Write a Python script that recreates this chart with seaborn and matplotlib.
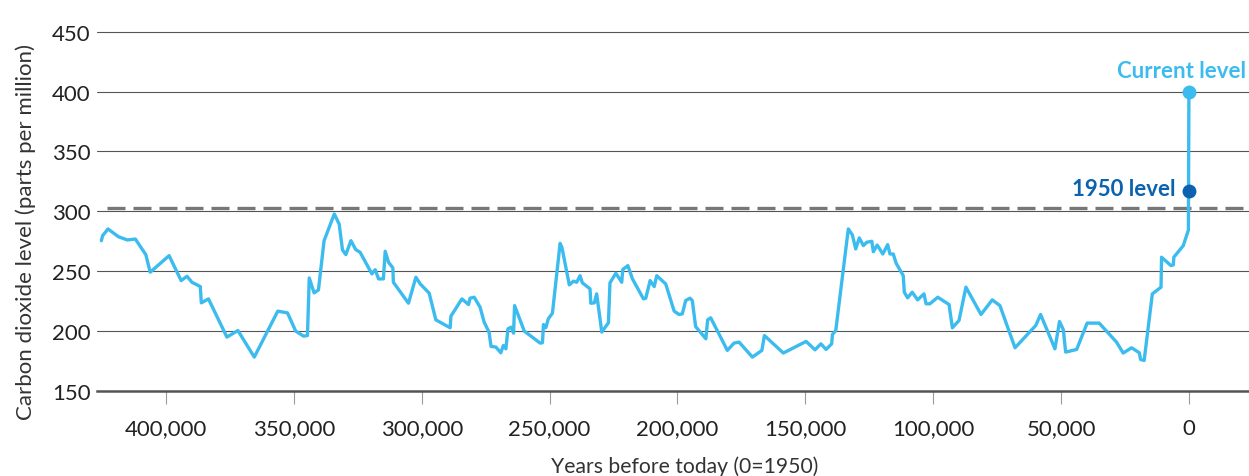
import matplotlib
matplotlib.use("Agg")
import matplotlib.pyplot as plt
import matplotlib.ticker as mticker
import pandas as pd
import seaborn as sns

# years before 1950 and CO2 (ppm)
years = [
    425300, 424800, 422700, 418600, 415100, 412000, 407900, 406200, 398800, 394100,
    391800, 389900, 386600, 386200, 383400, 376200, 371900, 365500, 356300, 352500,
    349300, 346200, 344700, 344000, 342100, 340400, 338200, 334200, 332300, 331000,
    329700, 327700, 325800, 324100, 319500, 318200, 316900, 315000, 314300, 313000,
    311300, 311100, 305200, 302300, 300600, 297100, 294500, 288900, 288600, 284300,
    281700, 281100, 279500, 277200, 275600, 273700, 272900, 271000, 269100, 268100,
    267100, 266300, 265000, 264100, 263700, 259900, 253700, 252800, 252400, 251500,
    250500, 248900, 245900, 245200, 242300, 240700, 239400, 238100, 237200, 234200,
    233900, 232500, 231600, 229600, 227000, 226400, 224100, 221800, 221400, 219400,
    217600, 213300, 212400, 210700, 209100, 208100, 204600, 201300, 199400, 198100,
    196800, 195100, 194200, 192900, 188900, 188200, 187000, 180500, 177900, 175900,
    170700, 167000, 166000, 158600, 149700, 146200, 143900, 141900, 139700, 139400,
    138100, 133200, 131600, 130300, 128900, 127300, 126000, 124000, 123400, 121900,
    119700, 117800, 116900, 115600, 114500, 111700, 111300, 110000, 108200, 106100,
    103600, 102800, 101300, 98200, 93800, 92500, 89900, 87200, 81300, 76900,
    73900, 68000, 59900, 58000, 52400, 50600, 49100, 48200, 43900, 39800,
    35100, 28300, 25700, 22400, 19400, 18900, 17500, 14300, 10900, 10700,
    7000, 6100, 5900, 2200, 200, 0,
]
co2 = [
    275.5, 279.7, 285.3, 278.8, 276.1, 276.9, 263.8, 249.2, 263.0, 242.2,
    245.8, 240.8, 237.2, 223.6, 226.9, 195.0, 200.5, 178.3, 216.7, 215.2,
    200.0, 195.8, 196.3, 244.4, 231.9, 234.4, 275.5, 297.8, 289.4, 267.8,
    263.9, 275.5, 268.0, 265.8, 247.8, 251.3, 243.6, 243.6, 266.7, 257.5,
    252.8, 240.8, 223.3, 245.0, 239.4, 231.7, 209.4, 202.8, 212.5, 226.9,
    222.2, 227.5, 228.3, 220.0, 207.5, 199.2, 187.2, 186.7, 181.9, 188.0,
    185.2, 201.9, 203.3, 198.3, 221.3, 200.0, 190.0, 190.3, 205.5, 202.8,
    210.3, 215.0, 273.3, 270.0, 238.6, 241.7, 240.8, 246.3, 240.3, 235.3,
    223.3, 223.6, 231.1, 199.2, 207.0, 240.3, 248.3, 240.8, 251.4, 254.7,
    243.6, 226.9, 227.5, 242.2, 237.2, 246.3, 239.4, 216.7, 213.9, 214.4,
    225.5, 227.5, 225.5, 203.8, 193.6, 209.4, 211.1, 183.9, 190.0, 190.8,
    178.3, 183.9, 196.3, 181.7, 191.4, 184.4, 189.4, 184.7, 189.4, 197.2,
    200.5, 285.3, 280.3, 268.6, 277.8, 271.4, 274.2, 275.0, 266.3, 271.9,
    264.4, 272.2, 264.4, 264.4, 256.7, 246.3, 232.5, 227.8, 232.5, 226.1,
    231.1, 222.8, 222.8, 228.3, 222.2, 202.8, 208.9, 236.7, 213.9, 226.1,
    221.3, 186.1, 204.7, 213.9, 185.2, 208.0, 201.1, 182.5, 184.7, 206.7,
    206.7, 190.8, 181.7, 186.1, 181.9, 176.3, 175.5, 231.1, 236.7, 261.7,
    254.7, 255.3, 261.7, 271.4, 284.4, 400.0,
]
pre_industrial_max = 303
level_1950 = 317
level_current = 400
y_ticks = [150, 200, 250, 300, 350, 400, 450]
x_ticks = [400000, 350000, 300000, 250000, 200000, 150000, 100000, 50000, 0]

LIGHT_BLUE = "#3cbcee"
DARK_BLUE = "#0b62ae"
GRID = "#555555"
TEXT = "#222222"

sns.set_style("white")
plt.rcParams["font.family"] = ["Lato", "DejaVu Sans"]

df = pd.DataFrame({"years": years, "co2": co2})

fig = plt.figure(figsize=(12.49, 4.77), dpi=100)
ax = fig.add_axes([97 / 1249, 1 - 392 / 477, 1 - 97 / 1249, 360 / 477])

# dashed reference line
ax.hlines(pre_industrial_max, 423000, -30000, colors="#777777", linewidth=2.4,
          linestyles=(0, (5.4, 2.4)), zorder=2)

sns.lineplot(data=df, x="years", y="co2", estimator=None, sort=False,
             color=LIGHT_BLUE, linewidth=2.4, ax=ax, zorder=3)

ax.plot([0], [level_current], "o", color=LIGHT_BLUE, markersize=9, zorder=4)
ax.plot([0], [level_1950], "o", color=DARK_BLUE, markersize=9, zorder=4)

# keep the label inside the figure: right-align it just short of the edge
ax.annotate("Current level", xy=(0, level_current), xytext=(41, 15), textcoords="offset points",
            ha="right", va="center", color=LIGHT_BLUE, fontsize=16, fontweight="bold")
ax.annotate("1950 level", xy=(0, level_1950), xytext=(-10, 1.5), textcoords="offset points",
            ha="right", va="center", color=DARK_BLUE, fontsize=16, fontweight="bold")

ax.set_xlim(427000, -23500)
ax.set_ylim(150, 450.6)
ax.set_xticks(x_ticks)
ax.set_yticks(y_ticks)
ax.xaxis.set_major_formatter(mticker.FuncFormatter(lambda v, p: f"{int(v):,}"))

ax.yaxis.grid(True, color=GRID, linewidth=0.8)
ax.xaxis.grid(False)
for side in ["top", "left", "right"]:
    ax.spines[side].set_visible(False)
ax.spines["bottom"].set_color(GRID)
ax.spines["bottom"].set_linewidth(1.8)
ax.spines["bottom"].set_zorder(5)

ax.tick_params(axis="x", length=9.4, width=0.8, color="#999999", pad=10,
               labelsize=16, labelcolor=TEXT, direction="out", bottom=True)
ax.tick_params(axis="y", length=0, pad=4.5, labelsize=16, labelcolor=TEXT)

ax.set_xlabel("Years before today (0=1950)", fontsize=15.2, color="#333333")
ax.set_ylabel("Carbon dioxide level (parts per million)", fontsize=16, color="#333333")
ax.xaxis.label.set_va("center")
ax.xaxis.set_label_coords(0.51, -0.208)
ax.yaxis.label.set_va("center")
ax.yaxis.set_label_coords(-0.062, 0.444)

fig.savefig("out.png", dpi=100)
